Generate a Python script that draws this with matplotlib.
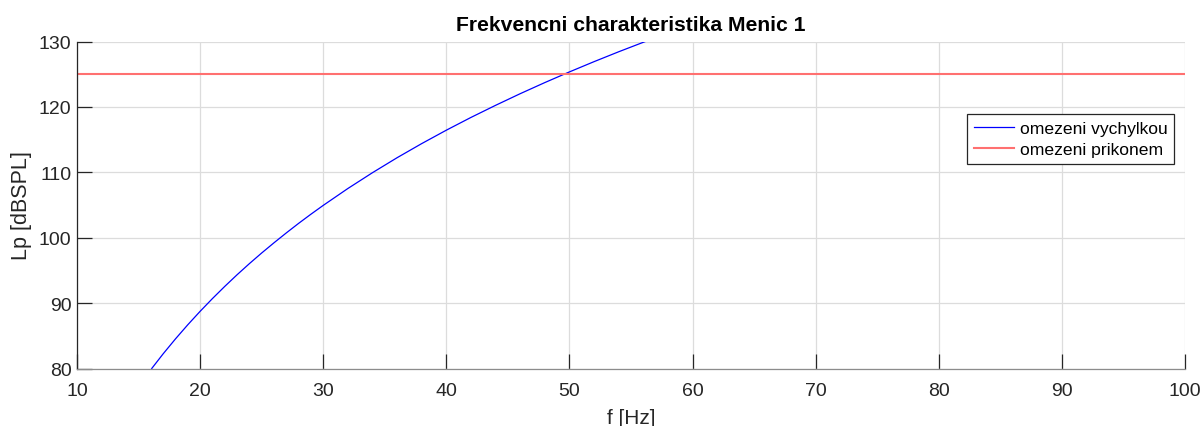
import matplotlib
matplotlib.use("Agg")
import matplotlib.pyplot as plt

plt.rcParams['font.family'] = ['Liberation Sans', 'DejaVu Sans']

# Excursion-limited SPL
freq_excursion = [16.07, 17, 18, 19, 20, 21, 22, 23, 24, 25, 26, 27, 28, 29, 30,
                  32, 34, 36, 38, 40, 42, 44, 46, 48, 50, 52, 54, 56, 57]
lp_excursion = [80.00, 82.25, 84.53, 86.69, 88.74, 90.69, 92.55, 94.33, 96.03,
                97.66, 99.22, 100.73, 102.19, 103.59, 104.94, 107.52, 109.94,
                112.23, 114.39, 116.44, 118.39, 120.24, 122.02, 123.72, 125.35,
                126.92, 128.43, 129.88, 130.59]

# Power-limited SPL
freq_power = [10, 100]
lp_power = [125, 125]

x_ticks = [10, 20, 30, 40, 50, 60, 70, 80, 90, 100]
y_ticks = [80, 90, 100, 110, 120, 130]

title = "Frekvencni charakteristika Menic 1"
labels = ["omezeni vychylkou", "omezeni prikonem"]

W, H = 1203, 427
fig = plt.figure(figsize=(W / 100, H / 100), dpi=100)
left, right, top, bottom = 77, 1185, 42.5, 369.5
ax = fig.add_axes([left / W, 1 - bottom / H, (right - left) / W, (bottom - top) / H])

ax.plot(freq_excursion, lp_excursion, color='#0000ff', lw=0.9, label=labels[0])
ax.plot(freq_power, lp_power, color='#ff7070', lw=1.5, label=labels[1])

ax.set_xlim(10, 100)
ax.set_ylim(80, 130)
ax.set_xticks(x_ticks)
ax.set_yticks(y_ticks)

ax.grid(True, color='#dcdcdc', lw=0.9)
ax.set_axisbelow(True)

ax.spines['top'].set_visible(False)
ax.spines['right'].set_visible(False)
ax.spines['left'].set_color('#262626')
ax.spines['left'].set_linewidth(0.9)
ax.spines['bottom'].set_color('#8c8c8c')
ax.spines['bottom'].set_linewidth(0.9)

ax.tick_params(direction='in', length=11, width=0.9, color='#262626',
               labelsize=14, labelcolor='#262626')
ax.tick_params(axis='x', pad=10)
ax.tick_params(axis='y', pad=4)

ax.set_title(title, fontsize=15.2, fontweight='bold', color='#000000', pad=8)
ax.set_xlabel("f [Hz]", fontsize=15, color='#262626', labelpad=6)
ax.set_ylabel("Lp [dBSPL]", fontsize=15.5, color='#262626', labelpad=5)

leg = ax.legend(loc='upper right', bbox_to_anchor=(0.9905, 0.778), fontsize=12.6,
                frameon=True, fancybox=False, framealpha=1, edgecolor='#262626',
                handlelength=2.3, handletextpad=0.3, borderpad=0.4,
                labelspacing=0.3, borderaxespad=0)
leg.get_frame().set_linewidth(0.9)
for t in leg.get_texts():
    t.set_color('#000000')

fig.savefig("out.png", dpi=100)
